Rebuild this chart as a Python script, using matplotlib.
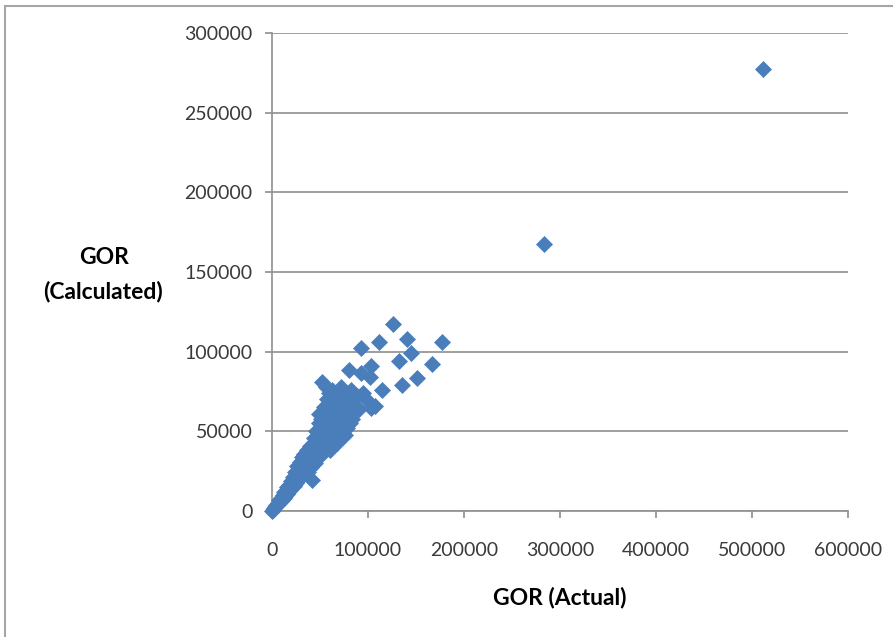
import matplotlib
matplotlib.use("Agg")
import matplotlib.pyplot as plt
from matplotlib.patches import Rectangle

# GOR (Actual) vs GOR (Calculated)
gor_actual = [
    300, 1200, 2000, 3000, 4000, 5200, 6000, 7000, 7800, 8500,
    9500, 10200, 11000, 12000, 12500, 13500, 14500, 15500, 16000, 17000,
    18000, 18500, 19500, 20000, 21000, 22000, 22500, 23500, 24000, 25000,
    26000, 26500, 27500, 28000, 29000, 30000, 30500, 31000, 32000, 33000,
    33500, 34500, 35000, 36000, 36500, 37500, 38000, 39000, 40000, 40500,
    41500, 42000, 42500, 43500, 44000, 44500, 45500, 46000, 47000, 47500,
    48500, 48500, 49000, 50000, 50500, 51500, 51800, 52000, 52500, 53000,
    54000, 54500, 55000, 55500, 56000, 56500, 57000, 57500, 58000, 59000,
    59500, 60000, 60500, 61000, 61500, 62000, 62500, 63000, 63500, 64500,
    65000, 65500, 66000, 67000, 67500, 68000, 68500, 69500, 70000, 70500,
    71000, 72000, 72500, 73000, 74000, 74500, 75500, 76000, 77000, 77500,
    78000, 79000, 80500, 80500, 81000, 82000, 83000, 84000, 85000, 86000,
    88000, 89000, 91000, 95000, 98000, 103400, 107000,
    92400, 103100, 102100, 111500, 126400, 140300, 177400, 144800, 132300,
    166400, 150700, 135100, 114300, 92400,
    283300, 511500,
]
gor_calculated = [
    200, 900, 1800, 2200, 3500, 3800, 5200, 4800, 6600, 5900,
    8200, 7100, 9800, 8400, 11800, 9600, 12600, 10800, 14800, 12000,
    16500, 13200, 18800, 14200, 17000, 21500, 15500, 19000, 24500, 17500,
    22000, 28000, 19500, 25500, 31000, 21500, 27500, 34000, 24000, 30000,
    36000, 26500, 33000, 29000, 38000, 24500, 35000, 31000, 40500, 27500,
    37000, 19500, 33000, 46000, 42000, 30000, 38500, 50000, 35000, 44500,
    61000, 55000, 40500, 48000, 34500, 58000, 81000, 52000, 44000, 37000,
    65000, 56000, 48500, 41000, 78000, 61000, 70000, 52000, 45000, 74000,
    66000, 57000, 38500, 49000, 62000, 76000, 70000, 54000, 43000, 66000,
    58500, 48000, 72000, 62000, 42500, 52000, 68000, 56000, 74000, 46000,
    64000, 78000, 59500, 50000, 70000, 54000, 65000, 47500, 74000, 58500,
    52000, 68000, 88500, 62500, 55000, 76000, 58000, 70000, 62000, 66000,
    64000, 72000, 64000, 74000, 70000, 64500, 66000,
    86600, 91200, 84300, 105900, 117400, 107800, 106100, 99000, 94300,
    92100, 83700, 79100, 75900, 102500,
    167600, 277400,
]

x_ticks = [0, 100000, 200000, 300000, 400000, 500000, 600000]
y_ticks = [0, 50000, 100000, 150000, 200000, 250000, 300000]

W, H = 893, 637
fig = plt.figure(figsize=(W / 100, H / 100), dpi=100)

# outer chart border (left and top edges visible)
fig.patches.append(Rectangle((5 / W, -0.1), 1.2, (H - 6) / H + 0.1,
                             transform=fig.transFigure, fill=False,
                             edgecolor='#a6a6a6', linewidth=1.5))

ax = fig.add_axes([272 / W, (H - 511) / H, 576 / W, 478 / H])
ax.set_xlim(0, 600000)
ax.set_ylim(0, 300000)

ax.plot(gor_actual, gor_calculated, linestyle='none', marker='D',
        markersize=7.8, color='#4A7EBB', markeredgecolor='#4A7EBB',
        markeredgewidth=0.5, clip_on=False, zorder=3)

ax.set_xticks(x_ticks)
ax.set_yticks(y_ticks)
ax.set_xticklabels([str(v) for v in x_ticks])
ax.set_yticklabels([str(v) for v in y_ticks])

ax.yaxis.grid(True, color='#8f8f8f', linewidth=1.2)
ax.set_axisbelow(True)
for s in ['top', 'right']:
    ax.spines[s].set_visible(False)
for s in ['left', 'bottom']:
    ax.spines[s].set_color('#8f8f8f')
    ax.spines[s].set_linewidth(1.2)

ax.tick_params(axis='x', direction='out', length=5, width=1.2,
               color='#8f8f8f', pad=17, labelsize=14, labelcolor='#3a3a3a')
ax.tick_params(axis='y', direction='out', length=5, width=1.2,
               color='#8f8f8f', pad=9, labelsize=14, labelcolor='#3a3a3a')
for lbl in ax.get_xticklabels() + ax.get_yticklabels():
    lbl.set_family('Lato')

fig.text(560 / W, 1 - 598 / H, 'GOR (Actual)', ha='center', va='center',
         fontsize=16.5, fontweight='bold', family='Lato', color='black')
fig.text(104 / W, 1 - 257 / H, 'GOR', ha='center', va='center',
         fontsize=16.5, fontweight='bold', family='Lato', color='black')
fig.text(103 / W, 1 - 292 / H, '(Calculated)', ha='center', va='center',
         fontsize=16.5, fontweight='bold', family='Lato', color='black')

fig.savefig('out.png', dpi=100)
